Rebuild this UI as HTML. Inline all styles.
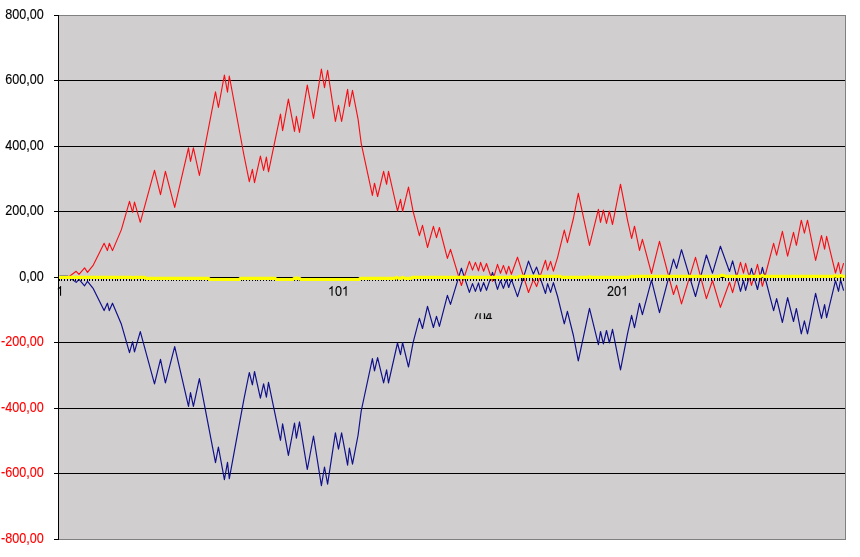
<!DOCTYPE html>
<html><head><meta charset="utf-8"><title>chart</title>
<style>
html,body{margin:0;padding:0;background:#fff;}
body{width:860px;height:557px;overflow:hidden;font-family:"Liberation Sans",sans-serif;}
svg{display:block;}
text{font-family:"Liberation Sans",sans-serif;font-size:13px;}
</style></head><body>
<svg width="860" height="557" viewBox="0 0 860 557">
<rect x="0" y="0" width="860" height="557" fill="#ffffff"/>
<rect x="58.5" y="15.5" width="787" height="524" fill="#d0cecf" stroke="#808080" stroke-width="1"/>

<g stroke="#000" stroke-width="1" shape-rendering="crispEdges">
<line x1="59" y1="80.5" x2="845" y2="80.5"/>
<line x1="59" y1="146.5" x2="845" y2="146.5"/>
<line x1="59" y1="211.5" x2="845" y2="211.5"/>
<line x1="59" y1="342.5" x2="845" y2="342.5"/>
<line x1="59" y1="408.5" x2="845" y2="408.5"/>
<line x1="59" y1="473.5" x2="845" y2="473.5"/>
</g>
<polyline fill="none" stroke="#10108a" stroke-width="1.18" stroke-linejoin="round" points="59.4,276.2 67.8,276.2 76.2,282.4 79.0,279.4 84.6,285.8 87.5,281.3 93.3,288.7 104.1,310.6 107.4,303.2 109.3,310.6 112.5,303.2 121.4,324.3 129.5,352.7 132.6,341.7 134.5,351.9 140.3,331.6 154.5,383.9 160.5,359.4 165.4,382.9 174.7,346.6 188.5,406.4 190.5,392.7 193.4,406.4 199.4,378.7 215.5,462.6 218.4,447.0 224.4,479.6 227.5,462.4 229.3,478.6 243.8,399.8 249.3,372.5 252.4,384.8 254.5,371.5 260.4,398.1 263.6,383.8 266.4,397.1 268.5,382.4 280.5,440.3 282.6,423.8 288.4,455.4 294.5,423.0 296.4,438.1 299.5,421.9 307.3,469.5 313.5,436.0 321.4,485.6 324.5,467.0 327.6,484.2 335.4,432.9 338.5,449.1 341.6,432.9 347.6,465.2 349.4,448.0 352.5,464.1 358.1,435.0 361.2,411.0 372.4,358.7 374.5,370.9 377.6,357.6 383.6,382.9 386.6,369.8 388.5,382.9 397.5,343.0 400.5,354.6 402.6,342.6 408.5,367.0 413.1,342.6 419.4,318.3 422.5,328.5 427.5,306.3 433.4,327.5 436.5,316.3 439.4,326.4 447.4,295.4 450.5,304.4 461.4,268.2 469.4,292.4 472.5,283.6 475.4,291.4 478.5,282.9 480.6,291.4 483.6,282.5 486.5,290.3 492.5,272.4 497.5,289.4 500.5,280.5 503.4,288.4 506.4,279.7 508.7,287.5 511.4,279.4 517.5,296.6 528.5,261.1 533.4,274.1 536.6,267.1 545.5,293.5 547.6,283.6 550.6,292.4 553.4,282.6 557.6,296.5 564.3,323.8 567.4,311.3 573.4,335.5 578.3,360.8 589.5,308.4 598.4,344.6 600.5,331.5 603.4,343.9 606.5,330.5 609.4,342.9 612.5,329.4 620.5,369.9 627.6,333.4 631.6,315.4 634.5,327.7 639.5,303.4 642.4,314.6 651.5,280.2 659.5,312.6 673.5,259.1 676.6,268.4 681.5,249.7 695.5,296.5 706.4,255.0 712.5,273.2 720.4,246.2 729.5,271.5 732.6,260.9 740.5,291.4 743.5,280.5 745.6,290.4 751.5,268.3 757.5,289.5 762.4,267.4 773.6,310.6 776.6,298.6 782.4,322.5 787.6,297.6 793.5,321.5 796.4,308.5 801.3,333.8 804.4,320.8 807.5,333.8 815.6,293.4 821.5,318.4 824.6,304.6 826.6,317.6 835.5,280.7 838.5,291.3 840.6,280.0 843.6,290.6"/>
<polyline fill="none" stroke="#fa0c12" stroke-width="1.12" stroke-linejoin="round" points="59.4,277.5 67.8,277.5 76.2,271.3 79.0,274.3 84.6,267.9 87.5,272.4 93.3,265.1 104.1,243.3 107.4,250.6 109.3,243.3 112.5,250.6 121.4,229.6 129.5,201.3 132.6,212.3 134.5,202.1 140.3,222.3 154.5,170.3 160.5,194.7 165.4,171.3 174.7,207.4 188.5,147.9 190.5,161.5 193.4,147.9 199.4,175.5 215.5,91.9 218.4,107.5 224.4,75.0 227.5,92.1 229.3,76.0 243.8,154.5 249.3,181.6 252.4,169.4 254.5,182.6 260.4,156.1 263.6,170.4 266.4,157.1 268.5,171.8 280.5,114.1 282.6,130.6 288.4,99.1 294.5,131.4 296.4,116.3 299.5,132.5 307.3,85.1 313.5,118.4 321.4,69.0 324.5,87.6 327.6,70.4 335.4,121.5 338.5,105.4 341.6,121.5 347.6,89.3 349.4,106.5 352.5,90.4 358.1,119.4 361.2,143.3 372.4,195.4 374.5,183.2 377.6,196.5 383.6,171.3 386.6,184.3 388.5,171.3 397.5,211.0 400.5,199.4 402.6,211.4 408.5,187.1 413.1,211.4 419.4,235.6 422.5,225.4 427.5,247.5 433.4,226.4 436.5,237.6 439.4,227.5 447.4,258.4 450.5,249.4 461.4,285.5 469.4,261.4 472.5,270.1 475.4,262.4 478.5,270.8 480.6,262.4 483.6,271.2 486.5,263.5 492.5,281.3 497.5,264.4 500.5,273.2 503.4,265.4 506.4,274.0 508.7,266.2 511.4,274.3 517.5,257.2 528.5,292.5 533.4,279.6 536.6,286.6 545.5,260.3 547.6,270.1 550.6,261.4 553.4,271.1 557.6,257.3 564.3,230.1 567.4,242.6 573.4,218.5 578.3,193.3 589.5,245.4 598.4,209.4 600.5,222.4 603.4,210.1 606.5,223.4 609.4,211.1 612.5,224.5 620.5,184.2 627.6,220.6 631.6,238.5 634.5,226.2 639.5,250.4 642.4,239.3 651.5,273.5 659.5,241.3 673.5,294.5 676.6,285.3 681.5,303.9 695.5,257.3 706.4,298.6 712.5,280.5 720.4,307.4 729.5,282.2 732.6,292.7 740.5,262.4 743.5,273.2 745.6,263.4 751.5,285.4 757.5,264.3 762.4,286.3 773.6,243.3 776.6,255.2 782.4,231.4 787.6,256.2 793.5,232.4 796.4,245.3 801.3,220.2 804.4,233.1 807.5,220.2 815.6,260.4 821.5,235.5 824.6,249.2 826.6,236.3 835.5,273.0 838.5,262.5 840.6,273.7 843.6,263.2"/>
<clipPath id="c704"><rect x="470" y="313.3" width="30" height="5.6"/></clipPath>
<g clip-path="url(#c704)" fill="#000" stroke="#000" stroke-width="35">
<path d="M1036 1263Q820 933 731 746Q642 559 597.5 377Q553 195 553 0H365Q365 270 479.5 568.5Q594 867 862 1256H105V1409H1036Z" transform="translate(472.45,321.15) scale(0.005766,-0.007031)"/>
<path d="M1059 705Q1059 352 934.5 166Q810 -20 567 -20Q324 -20 202 165Q80 350 80 705Q80 1068 198.5 1249Q317 1430 573 1430Q822 1430 940.5 1247Q1059 1064 1059 705ZM876 705Q876 1010 805.5 1147Q735 1284 573 1284Q407 1284 334.5 1149Q262 1014 262 705Q262 405 335.5 266Q409 127 569 127Q728 127 802 269Q876 411 876 705Z" transform="translate(479.02,321.15) scale(0.005766,-0.007031)"/>
<path d="M881 319V0H711V319H47V459L692 1409H881V461H1079V319ZM711 1206Q709 1200 683 1153Q657 1106 644 1087L283 555L229 481L213 461H711Z" transform="translate(485.58,321.15) scale(0.005766,-0.007031)"/>
</g>
<g stroke="#000" stroke-width="1" shape-rendering="crispEdges">
<line x1="58.5" y1="15" x2="58.5" y2="540"/>
<line x1="58" y1="277.5" x2="845" y2="277.5"/>
<line x1="54" y1="15.5" x2="58" y2="15.5"/>
<line x1="54" y1="80.5" x2="58" y2="80.5"/>
<line x1="54" y1="146.5" x2="58" y2="146.5"/>
<line x1="54" y1="211.5" x2="58" y2="211.5"/>
<line x1="54" y1="277.5" x2="58" y2="277.5"/>
<line x1="54" y1="342.5" x2="58" y2="342.5"/>
<line x1="54" y1="408.5" x2="58" y2="408.5"/>
<line x1="54" y1="473.5" x2="58" y2="473.5"/>
<line x1="54" y1="539.5" x2="58" y2="539.5"/>
</g>
<path d="M59.00,278V281M61.80,278V281M64.60,278V281M67.40,278V281M70.20,278V281M73.00,278V281M75.80,278V281M78.60,278V281M81.40,278V281M84.20,278V281M87.00,278V281M89.80,278V281M92.60,278V281M95.40,278V281M98.20,278V281M101.00,278V281M103.80,278V281M106.60,278V281M109.40,278V281M112.20,278V281M115.00,278V281M117.80,278V281M120.60,278V281M123.40,278V281M126.20,278V281M129.00,278V281M131.80,278V281M134.60,278V281M137.40,278V281M140.20,278V281M143.00,278V281M145.80,278V281M148.60,278V281M151.40,278V281M154.20,278V281M157.00,278V281M159.80,278V281M162.60,278V281M165.40,278V281M168.20,278V281M171.00,278V281M173.80,278V281M176.60,278V281M179.40,278V281M182.20,278V281M185.00,278V281M187.80,278V281M190.60,278V281M193.40,278V281M196.20,278V281M199.00,278V281M201.80,278V281M204.60,278V281M207.40,278V281M210.20,278V281M213.00,278V281M215.80,278V281M218.60,278V281M221.40,278V281M224.20,278V281M227.00,278V281M229.80,278V281M232.60,278V281M235.40,278V281M238.20,278V281M241.00,278V281M243.80,278V281M246.60,278V281M249.40,278V281M252.20,278V281M255.00,278V281M257.80,278V281M260.60,278V281M263.40,278V281M266.20,278V281M269.00,278V281M271.80,278V281M274.60,278V281M277.40,278V281M280.20,278V281M283.00,278V281M285.80,278V281M288.60,278V281M291.40,278V281M294.20,278V281M297.00,278V281M299.80,278V281M302.60,278V281M305.40,278V281M308.20,278V281M311.00,278V281M313.80,278V281M316.60,278V281M319.40,278V281M322.20,278V281M325.00,278V281M327.80,278V281M330.60,278V281M333.40,278V281M336.20,278V281M339.00,278V281M341.80,278V281M344.60,278V281M347.40,278V281M350.20,278V281M353.00,278V281M355.80,278V281M358.60,278V281M361.40,278V281M364.20,278V281M367.00,278V281M369.80,278V281M372.60,278V281M375.40,278V281M378.20,278V281M381.00,278V281M383.80,278V281M386.60,278V281M389.40,278V281M392.20,278V281M395.00,278V281M397.80,278V281M400.60,278V281M403.40,278V281M406.20,278V281M409.00,278V281M411.80,278V281M414.60,278V281M417.40,278V281M420.20,278V281M423.00,278V281M425.80,278V281M428.60,278V281M431.40,278V281M434.20,278V281M437.00,278V281M439.80,278V281M442.60,278V281M445.40,278V281M448.20,278V281M451.00,278V281M453.80,278V281M456.60,278V281M459.40,278V281M462.20,278V281M465.00,278V281M467.80,278V281M470.60,278V281M473.40,278V281M476.20,278V281M479.00,278V281M481.80,278V281M484.60,278V281M487.40,278V281M490.20,278V281M493.00,278V281M495.80,278V281M498.60,278V281M501.40,278V281M504.20,278V281M507.00,278V281M509.80,278V281M512.60,278V281M515.40,278V281M518.20,278V281M521.00,278V281M523.80,278V281M526.60,278V281M529.40,278V281M532.20,278V281M535.00,278V281M537.80,278V281M540.60,278V281M543.40,278V281M546.20,278V281M549.00,278V281M551.80,278V281M554.60,278V281M557.40,278V281M560.20,278V281M563.00,278V281M565.80,278V281M568.60,278V281M571.40,278V281M574.20,278V281M577.00,278V281M579.80,278V281M582.60,278V281M585.40,278V281M588.20,278V281M591.00,278V281M593.80,278V281M596.60,278V281M599.40,278V281M602.20,278V281M605.00,278V281M607.80,278V281M610.60,278V281M613.40,278V281M616.20,278V281M619.00,278V281M621.80,278V281M624.60,278V281M627.40,278V281M630.20,278V281M633.00,278V281M635.80,278V281M638.60,278V281M641.40,278V281M644.20,278V281M647.00,278V281M649.80,278V281M652.60,278V281M655.40,278V281M658.20,278V281M661.00,278V281M663.80,278V281M666.60,278V281M669.40,278V281M672.20,278V281M675.00,278V281M677.80,278V281M680.60,278V281M683.40,278V281M686.20,278V281M689.00,278V281M691.80,278V281M694.60,278V281M697.40,278V281M700.20,278V281M703.00,278V281M705.80,278V281M708.60,278V281M711.40,278V281M714.20,278V281M717.00,278V281M719.80,278V281M722.60,278V281M725.40,278V281M728.20,278V281M731.00,278V281M733.80,278V281M736.60,278V281M739.40,278V281M742.20,278V281M745.00,278V281M747.80,278V281M750.60,278V281M753.40,278V281M756.20,278V281M759.00,278V281M761.80,278V281M764.60,278V281M767.40,278V281M770.20,278V281M773.00,278V281M775.80,278V281M778.60,278V281M781.40,278V281M784.20,278V281M787.00,278V281M789.80,278V281M792.60,278V281M795.40,278V281M798.20,278V281M801.00,278V281M803.80,278V281M806.60,278V281M809.40,278V281M812.20,278V281M815.00,278V281M817.80,278V281M820.60,278V281M823.40,278V281M826.20,278V281M829.00,278V281M831.80,278V281M834.60,278V281M837.40,278V281M840.20,278V281M843.00,278V281" stroke="#000" stroke-width="1" fill="none" shape-rendering="crispEdges"/>
<polyline fill="none" stroke="#ffff00" stroke-width="3.1" stroke-linejoin="round" stroke-linecap="butt" points="59.0,277.4 131.6,277.4 132.8,278.2 134.2,277.4 144.8,277.4 145.9,278.4 208.6,278.4 209.6,279.5 239.2,279.5 240.4,278.4 275.2,278.4 276.2,279.5 292.8,279.5 294.2,278.4 295.4,278.4 296.2,277.9 297.0,278.4 299.6,278.4 300.8,279.5 359.0,279.5 360.2,278.4 394.6,278.4 396.6,277.4 398.8,278.4 400.6,278.4 402.6,277.4 404.8,278.4 411.2,278.4 412.2,277.4 509.8,277.4 511.2,276.5 512.6,277.4 517.8,277.4 519.0,276.4 560.4,276.4 561.6,277.4 588.0,277.4 589.4,276.5 590.8,277.4 629.4,277.4 631.0,276.4 633.0,276.4 634.2,277.2 635.8,276.4 719.4,276.4 721.0,275.4 723.4,275.4 725.4,276.4 760.6,276.4 762.2,275.3 764.0,276.4 833.6,276.4 835.2,275.5 836.8,276.4 839.2,276.4 840.8,275.5 842.4,276.4 845.0,276.4"/>
<g opacity="0.999">
<path d="M763 0H583V1147Q518 1085 412.5 1023Q307 961 223 930V1104Q374 1175 487 1276Q600 1377 647 1472H763Z" fill="#000" transform="translate(56.40,295.7) scale(0.006152,-0.006574)"/>
<path d="M763 0H583V1147Q518 1085 412.5 1023Q307 961 223 930V1104Q374 1175 487 1276Q600 1377 647 1472H763Z" fill="#000" transform="translate(327.89,295.7) scale(0.006152,-0.006574)"/><text transform="translate(334.9,295.7) scale(0.875,1)" text-anchor="start" fill="#000" stroke="#000" stroke-width="0.15" style="font-size:14.4px" >0</text><path d="M763 0H583V1147Q518 1085 412.5 1023Q307 961 223 930V1104Q374 1175 487 1276Q600 1377 647 1472H763Z" fill="#000" transform="translate(341.90,295.7) scale(0.006152,-0.006574)"/>
<text transform="translate(607.09,295.7) scale(0.875,1)" text-anchor="start" fill="#000" stroke="#000" stroke-width="0.15" style="font-size:14.4px" >2</text><text transform="translate(614.1,295.7) scale(0.875,1)" text-anchor="start" fill="#000" stroke="#000" stroke-width="0.15" style="font-size:14.4px" >0</text><path d="M763 0H583V1147Q518 1085 412.5 1023Q307 961 223 930V1104Q374 1175 487 1276Q600 1377 647 1472H763Z" fill="#000" transform="translate(621.10,295.7) scale(0.006152,-0.006574)"/>
<text transform="translate(43.8,19.2) scale(0.875,1)" text-anchor="end" fill="#000000" stroke="#000000" stroke-width="0.15" style="font-size:14.4px" >800,00</text>
<text transform="translate(43.8,84.2) scale(0.875,1)" text-anchor="end" fill="#000000" stroke="#000000" stroke-width="0.15" style="font-size:14.4px" >600,00</text>
<text transform="translate(43.8,150.2) scale(0.875,1)" text-anchor="end" fill="#000000" stroke="#000000" stroke-width="0.15" style="font-size:14.4px" >400,00</text>
<text transform="translate(43.8,215.2) scale(0.875,1)" text-anchor="end" fill="#000000" stroke="#000000" stroke-width="0.15" style="font-size:14.4px" >200,00</text>
<text transform="translate(43.8,281.2) scale(0.875,1)" text-anchor="end" fill="#000000" stroke="#000000" stroke-width="0.15" style="font-size:14.4px" >0,00</text>
<text transform="translate(43.8,346.2) scale(0.875,1)" text-anchor="end" fill="#ff0000" stroke="#ff0000" stroke-width="0.15" style="font-size:14.4px" >-200,00</text>
<text transform="translate(43.8,412.2) scale(0.875,1)" text-anchor="end" fill="#ff0000" stroke="#ff0000" stroke-width="0.15" style="font-size:14.4px" >-400,00</text>
<text transform="translate(43.8,477.2) scale(0.875,1)" text-anchor="end" fill="#ff0000" stroke="#ff0000" stroke-width="0.15" style="font-size:14.4px" >-600,00</text>
<text transform="translate(43.8,543.2) scale(0.875,1)" text-anchor="end" fill="#ff0000" stroke="#ff0000" stroke-width="0.15" style="font-size:14.4px" >-800,00</text>
</g>
</svg></body></html>
